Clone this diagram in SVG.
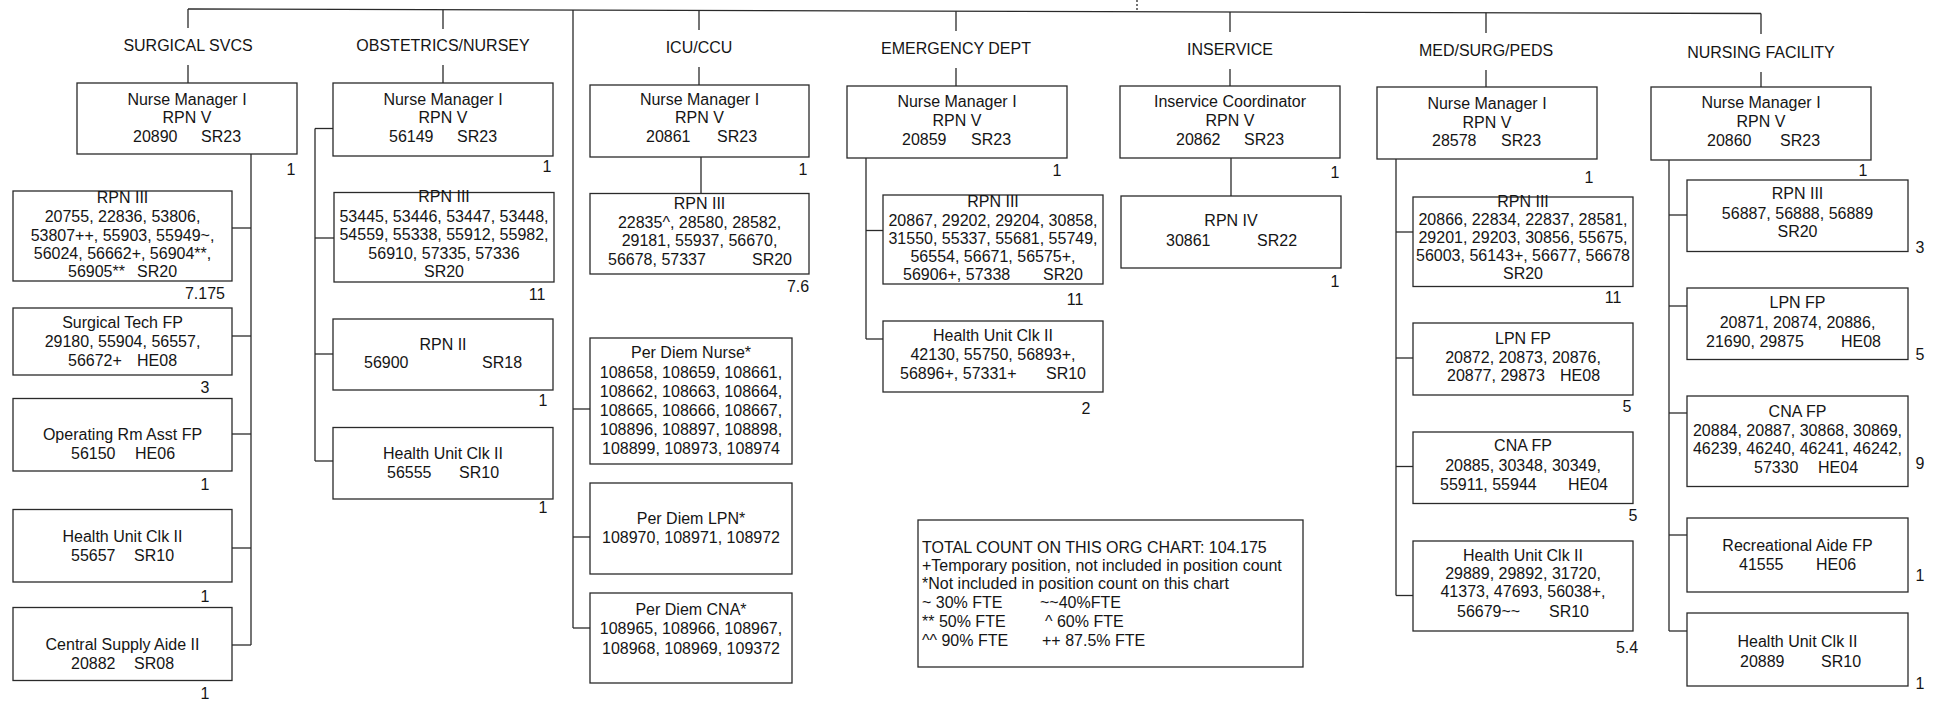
<svg xmlns="http://www.w3.org/2000/svg" width="1933" height="702" viewBox="0 0 1933 702">
<style>
rect.b{fill:#fff;stroke:#2a2a2a;stroke-width:1.3}
.c line{stroke:#2a2a2a;stroke-width:1.3;fill:none}
text{font-family:"Liberation Sans",Arial,sans-serif;font-size:16px;fill:#151515}
.m{text-anchor:middle}
.e{text-anchor:end}
.n{text-anchor:middle}
.r{text-anchor:middle}
.s15{font-size:15px}
</style>
<rect width="1933" height="702" fill="#fff"/>
<g class="c" id="connectors">
<line x1="188" y1="9" x2="1761" y2="13.5"/>
<line x1="1137" y1="0" x2="1137" y2="11.7" stroke-dasharray="2,2"/>
<line x1="188" y1="9" x2="188" y2="28"/><line x1="188" y1="65" x2="188" y2="83"/>
<line x1="443" y1="9.7" x2="443" y2="29"/><line x1="443" y1="65" x2="443" y2="83"/>
<line x1="699" y1="10.5" x2="699" y2="30"/><line x1="699" y1="67" x2="699" y2="85"/>
<line x1="956" y1="11.2" x2="956" y2="31"/><line x1="956" y1="68" x2="956" y2="86"/>
<line x1="1230" y1="12" x2="1230" y2="32"/><line x1="1230" y1="69" x2="1230" y2="86"/>
<line x1="1486" y1="12.7" x2="1486" y2="33"/><line x1="1486" y1="70" x2="1486" y2="87"/>
<line x1="1761" y1="13.5" x2="1761" y2="34"/><line x1="1761" y1="72" x2="1761" y2="87"/>
<!-- surgical -->
<line x1="251" y1="154" x2="251" y2="645"/>
<line x1="232" y1="228" x2="251" y2="228"/><line x1="232" y1="336" x2="251" y2="336"/>
<line x1="232" y1="434" x2="251" y2="434"/><line x1="232" y1="548" x2="251" y2="548"/>
<line x1="232" y1="645" x2="251" y2="645"/>
<!-- obstetrics -->
<line x1="315" y1="128.5" x2="315" y2="461"/>
<line x1="315" y1="128.5" x2="333" y2="128.5"/><line x1="315" y1="238" x2="334" y2="238"/>
<line x1="315" y1="354" x2="333" y2="354"/><line x1="315" y1="461" x2="333" y2="461"/>
<!-- icu -->
<line x1="701" y1="157" x2="701" y2="193.5"/>
<line x1="573" y1="10.1" x2="573" y2="628"/>
<line x1="573" y1="409" x2="590" y2="409"/><line x1="573" y1="537" x2="590" y2="537"/>
<line x1="573" y1="628" x2="590" y2="628"/>
<!-- emergency -->
<line x1="866" y1="158" x2="866" y2="339"/>
<line x1="866" y1="230.5" x2="883" y2="230.5"/><line x1="866" y1="339" x2="883" y2="339"/>
<!-- inservice -->
<line x1="1231" y1="158" x2="1231" y2="196"/>
<!-- med/surg -->
<line x1="1396" y1="159" x2="1396" y2="595.5"/>
<line x1="1396" y1="232" x2="1413" y2="232"/><line x1="1396" y1="358" x2="1413" y2="358"/>
<line x1="1396" y1="466.5" x2="1413" y2="466.5"/><line x1="1396" y1="595.5" x2="1413" y2="595.5"/>
<!-- nursing -->
<line x1="1669" y1="160" x2="1669" y2="631"/>
<line x1="1669" y1="215" x2="1687" y2="215"/><line x1="1669" y1="306" x2="1687" y2="306"/>
<line x1="1669" y1="413" x2="1687" y2="413"/><line x1="1669" y1="535" x2="1687" y2="535"/>
<line x1="1669" y1="631" x2="1687" y2="631"/>
</g>

<g id="titles">
<text class="m" x="188" y="51">SURGICAL SVCS</text>
<text class="m" x="443" y="51">OBSTETRICS/NURSEY</text>
<text class="m" x="699" y="53">ICU/CCU</text>
<text class="m" x="956" y="54">EMERGENCY DEPT</text>
<text class="m" x="1230" y="55">INSERVICE</text>
<text class="m" x="1486" y="56">MED/SURG/PEDS</text>
<text class="m" x="1761" y="58">NURSING FACILITY</text>
</g>

<!-- SURGICAL -->
<g id="surg-nm">
<rect class="b" x="77" y="83" width="220" height="71"/>
<text class="m" x="187" y="105">Nurse Manager I</text>
<text class="m" x="187" y="123">RPN V</text>
<text x="133" y="142">20890</text><text x="201" y="142">SR23</text>
<text class="n" x="291" y="175">1</text>
</g>
<g id="surg-rpn3">
<rect class="b" x="13" y="191" width="219" height="90"/>
<g class="s15">
<text class="m" x="122.5" y="203">RPN III</text>
<text class="m" x="122.5" y="222">20755, 22836, 53806,</text>
<text class="m" x="122.5" y="241">53807++, 55903, 55949~,</text>
<text class="m" x="122.5" y="259">56024, 56662+, 56904**,</text>
<text x="68" y="277">56905**</text><text x="137" y="277">SR20</text>
</g>
<text class="n" x="205" y="299">7.175</text>
</g>
<g id="surg-tech">
<rect class="b" x="13" y="308" width="219" height="67"/>
<text class="m" x="122.5" y="328">Surgical Tech FP</text>
<text class="m" x="122.5" y="347">29180, 55904, 56557,</text>
<text x="68" y="366">56672+</text><text x="137" y="366">HE08</text>
<text class="n" x="205" y="393">3</text>
</g>
<g id="surg-or">
<rect class="b" x="13" y="398.5" width="219" height="72.5"/>
<text class="m" x="122.5" y="440">Operating Rm Asst FP</text>
<text x="71" y="459">56150</text><text x="135" y="459">HE06</text>
<text class="n" x="205" y="490">1</text>
</g>
<g id="surg-huc">
<rect class="b" x="13" y="509.5" width="219" height="72.5"/>
<text class="m" x="122.5" y="542">Health Unit Clk II</text>
<text x="71" y="561">55657</text><text x="134" y="561">SR10</text>
<text class="n" x="205" y="602">1</text>
</g>
<g id="surg-csa">
<rect class="b" x="13" y="607.5" width="219" height="73"/>
<text class="m" x="122.5" y="650">Central Supply Aide II</text>
<text x="71" y="669">20882</text><text x="134" y="669">SR08</text>
<text class="n" x="205" y="699">1</text>
</g>

<!-- OBSTETRICS -->
<g id="obst-nm">
<rect class="b" x="333" y="83" width="220" height="73"/>
<text class="m" x="443" y="105">Nurse Manager I</text>
<text class="m" x="443" y="123">RPN V</text>
<text x="389" y="142">56149</text><text x="457" y="142">SR23</text>
<text class="n" x="547" y="172">1</text>
</g>
<g id="obst-rpn3">
<rect class="b" x="334" y="192.5" width="220" height="89.5"/>
<text class="m" x="444" y="202">RPN III</text>
<text class="m" x="444" y="222">53445, 53446, 53447, 53448,</text>
<text class="m" x="444" y="240">54559, 55338, 55912, 55982,</text>
<text class="m" x="444" y="259">56910, 57335, 57336</text>
<text class="m" x="444" y="277">SR20</text>
<text class="n" x="537" y="300">11</text>
</g>
<g id="obst-rpn2">
<rect class="b" x="333" y="319" width="220" height="71"/>
<text class="m" x="443" y="350">RPN II</text>
<text x="364" y="368">56900</text><text x="482" y="368">SR18</text>
<text class="n" x="543" y="406">1</text>
</g>
<g id="obst-huc">
<rect class="b" x="333" y="427.5" width="220" height="71.5"/>
<text class="m" x="443" y="459">Health Unit Clk II</text>
<text x="387" y="478">56555</text><text x="459" y="478">SR10</text>
<text class="n" x="543" y="513">1</text>
</g>

<!-- ICU -->
<g id="icu-nm">
<rect class="b" x="590" y="85" width="219" height="72"/>
<text class="m" x="699.5" y="105">Nurse Manager I</text>
<text class="m" x="699.5" y="123">RPN V</text>
<text x="646" y="142">20861</text><text x="717" y="142">SR23</text>
<text class="n" x="803" y="175">1</text>
</g>
<g id="icu-rpn3">
<rect class="b" x="590" y="193.5" width="219" height="80.5"/>
<text class="m" x="699.5" y="209">RPN III</text>
<text class="m" x="699.5" y="228">22835^, 28580, 28582,</text>
<text class="m" x="699.5" y="246">29181, 55937, 56670,</text>
<text x="608" y="265">56678, 57337</text><text class="e" x="792" y="265">SR20</text>
<text class="r" x="798" y="292">7.6</text>
</g>
<g id="icu-pdn">
<rect class="b" x="590" y="338" width="202" height="126"/>
<text class="m" x="691" y="358">Per Diem Nurse*</text>
<text class="m" x="691" y="378">108658, 108659, 108661,</text>
<text class="m" x="691" y="397">108662, 108663, 108664,</text>
<text class="m" x="691" y="416">108665, 108666, 108667,</text>
<text class="m" x="691" y="435">108896, 108897, 108898,</text>
<text class="m" x="691" y="454">108899, 108973, 108974</text>
</g>
<g id="icu-pdl">
<rect class="b" x="590" y="483" width="202" height="91"/>
<text class="m" x="691" y="524">Per Diem LPN*</text>
<text class="m" x="691" y="543">108970, 108971, 108972</text>
</g>
<g id="icu-pdc">
<rect class="b" x="590" y="593" width="202" height="90"/>
<text class="m" x="691" y="615">Per Diem CNA*</text>
<text class="m" x="691" y="634">108965, 108966, 108967,</text>
<text class="m" x="691" y="654">108968, 108969, 109372</text>
</g>

<!-- EMERGENCY -->
<g id="er-nm">
<rect class="b" x="847" y="86" width="220" height="72"/>
<text class="m" x="957" y="107">Nurse Manager I</text>
<text class="m" x="957" y="126">RPN V</text>
<text x="902" y="145">20859</text><text x="971" y="145">SR23</text>
<text class="n" x="1057" y="176">1</text>
</g>
<g id="er-rpn3">
<rect class="b" x="883" y="195" width="220" height="89"/>
<g class="s15">
<text class="m" x="993" y="207">RPN III</text>
<text class="m" x="993" y="226">20867, 29202, 29204, 30858,</text>
<text class="m" x="993" y="244">31550, 55337, 55681, 55749,</text>
<text class="m" x="993" y="262">56554, 56671, 56575+,</text>
<text x="903" y="280">56906+, 57338</text><text class="e" x="1083" y="280">SR20</text>
</g>
<text class="n" x="1075" y="305">11</text>
</g>
<g id="er-huc">
<rect class="b" x="883" y="321" width="220" height="71"/>
<text class="m" x="993" y="341">Health Unit Clk II</text>
<text class="m" x="993" y="360">42130, 55750, 56893+,</text>
<text x="900" y="379">56896+, 57331+</text><text class="e" x="1086" y="379">SR10</text>
<text class="n" x="1086" y="414">2</text>
</g>

<!-- LEGEND -->
<g id="legend">
<rect class="b" x="918" y="520" width="385" height="147"/>
<text x="922" y="553">TOTAL COUNT ON THIS ORG CHART: 104.175</text>
<text x="922" y="571">+Temporary position, not included in position count</text>
<text x="922" y="589">*Not included in position count on this chart</text>
<text x="922" y="608">~ 30% FTE</text><text x="1040" y="608">~~40%FTE</text>
<text x="922" y="627">** 50% FTE</text><text x="1045" y="627">^ 60% FTE</text>
<text x="922" y="646">^^ 90% FTE</text><text x="1042" y="646">++ 87.5% FTE</text>
</g>

<!-- INSERVICE -->
<g id="ins-coord">
<rect class="b" x="1120" y="86" width="220" height="72"/>
<text class="m" x="1230" y="107">Inservice Coordinator</text>
<text class="m" x="1230" y="126">RPN V</text>
<text x="1176" y="145">20862</text><text x="1244" y="145">SR23</text>
<text class="n" x="1335" y="178">1</text>
</g>
<g id="ins-rpn4">
<rect class="b" x="1121" y="196" width="220" height="72"/>
<text class="m" x="1231" y="226">RPN IV</text>
<text x="1166" y="246">30861</text><text x="1257" y="246">SR22</text>
<text class="n" x="1335" y="287">1</text>
</g>

<!-- MED/SURG/PEDS -->
<g id="med-nm">
<rect class="b" x="1377" y="87" width="220" height="72"/>
<text class="m" x="1487" y="109">Nurse Manager I</text>
<text class="m" x="1487" y="127.5">RPN V</text>
<text x="1432" y="146">28578</text><text x="1501" y="146">SR23</text>
<text class="r" x="1589" y="183">1</text>
</g>
<g id="med-rpn3">
<rect class="b" x="1413" y="197" width="220" height="89.5"/>
<g style="font-size:15.5px">
<text class="m" x="1523" y="207">RPN III</text>
<text class="m" x="1523" y="225">20866, 22834, 22837, 28581,</text>
<text class="m" x="1523" y="243">29201, 29203, 30856, 55675,</text>
<text class="m" x="1523" y="261">56003, 56143+, 56677, 56678</text>
<text class="m" x="1523" y="279">SR20</text>
</g>
<text class="r" x="1613" y="303">11</text>
</g>
<g id="med-lpn">
<rect class="b" x="1413" y="323" width="220" height="72"/>
<text class="m" x="1523" y="344">LPN FP</text>
<text class="m" x="1523" y="362.5">20872, 20873, 20876,</text>
<text x="1447" y="381">20877, 29873</text><text x="1560" y="381">HE08</text>
<text class="r" x="1627" y="412">5</text>
</g>
<g id="med-cna">
<rect class="b" x="1413" y="432" width="220" height="71.5"/>
<text class="m" x="1523" y="451">CNA  FP</text>
<text class="m" x="1523" y="471">20885, 30348, 30349,</text>
<text x="1440" y="490">55911, 55944</text><text class="e" x="1608" y="490">HE04</text>
<text class="r" x="1633" y="521">5</text>
</g>
<g id="med-huc">
<rect class="b" x="1413" y="541" width="220" height="90"/>
<text class="m" x="1523" y="560.5">Health Unit Clk II</text>
<text class="m" x="1523" y="579">29889, 29892, 31720,</text>
<text class="m" x="1523" y="597">41373, 47693, 56038+,</text>
<text x="1457" y="617">56679~~</text><text class="e" x="1589" y="617">SR10</text>
<text class="r" x="1627" y="653">5.4</text>
</g>

<!-- NURSING FACILITY -->
<g id="nf-nm">
<rect class="b" x="1651" y="87" width="220" height="73"/>
<text class="m" x="1761" y="107.5">Nurse Manager I</text>
<text class="m" x="1761" y="126.5">RPN V</text>
<text x="1707" y="145.5">20860</text><text x="1780" y="145.5">SR23</text>
<text class="r" x="1863" y="176">1</text>
</g>
<g id="nf-rpn3">
<rect class="b" x="1687" y="180" width="221" height="71.5"/>
<text class="m" x="1797.5" y="199">RPN III</text>
<text class="m" x="1797.5" y="219">56887, 56888, 56889</text>
<text class="m" x="1797.5" y="237">SR20</text>
<text class="r" x="1920" y="253">3</text>
</g>
<g id="nf-lpn">
<rect class="b" x="1687" y="288" width="221" height="71.5"/>
<text class="m" x="1797.5" y="308">LPN FP</text>
<text class="m" x="1797.5" y="328">20871, 20874, 20886,</text>
<text x="1706" y="347">21690, 29875</text><text class="e" x="1881" y="347">HE08</text>
<text class="r" x="1920" y="360">5</text>
</g>
<g id="nf-cna">
<rect class="b" x="1687" y="396" width="221" height="90.5"/>
<text class="m" x="1797.5" y="417">CNA  FP</text>
<text class="m" x="1797.5" y="436">20884, 20887, 30868, 30869,</text>
<text class="m" x="1797.5" y="454">46239, 46240, 46241, 46242,</text>
<text x="1754" y="473">57330</text><text x="1818" y="473">HE04</text>
<text class="r" x="1920" y="469">9</text>
</g>
<g id="nf-rec">
<rect class="b" x="1687" y="518" width="221" height="74"/>
<text class="m" x="1797.5" y="551">Recreational Aide FP</text>
<text x="1739" y="570">41555</text><text x="1816" y="570">HE06</text>
<text class="r" x="1920" y="581">1</text>
</g>
<g id="nf-huc">
<rect class="b" x="1687" y="613" width="221" height="73"/>
<text class="m" x="1797.5" y="647">Health Unit Clk II</text>
<text x="1740" y="667">20889</text><text x="1821" y="667">SR10</text>
<text class="r" x="1920" y="689">1</text>
</g>
</svg>
